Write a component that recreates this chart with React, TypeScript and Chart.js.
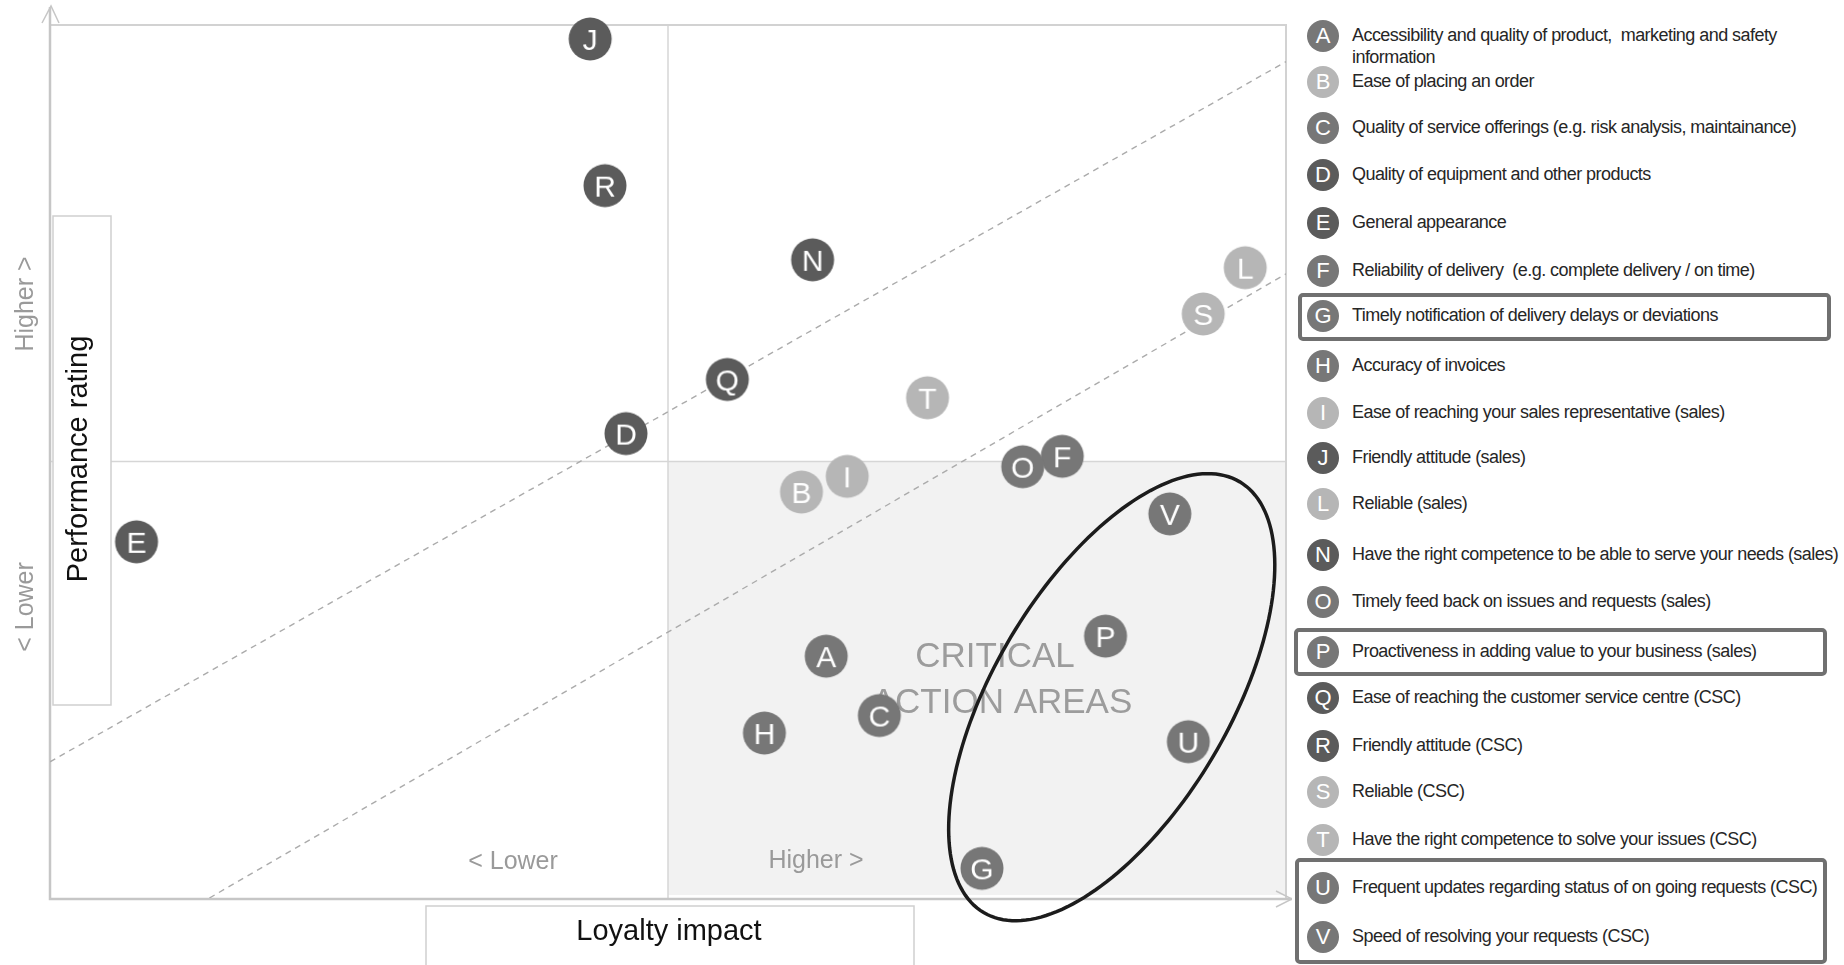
import React, { useEffect, useRef } from "react";
import { Chart, registerables } from "chart.js";

Chart.register(...registerables);

// Attribute codes, in legend order
const codes = ["A", "B", "C", "D", "E", "F", "G", "H", "I", "J", "L", "N", "O", "P", "Q", "R", "S", "T", "U", "V"];

// Loyalty impact (x) and performance rating (y), 0–10 scale, midpoint 5
const loyaltyImpact = [6.28, 6.08, 6.71, 4.66, 0.70, 8.19, 7.54, 5.78, 6.45, 4.37, 9.67, 6.17, 7.87, 8.54, 5.48, 4.49, 9.33, 7.10, 9.21, 9.06];
const performanceRating = [2.77, 4.65, 2.09, 5.32, 4.08, 5.06, 0.34, 1.89, 4.83, 9.84, 7.22, 7.31, 4.94, 3.00, 5.94, 8.16, 6.69, 5.73, 1.79, 4.40];

// Shade group of each attribute
const shades = ["mid", "light", "mid", "dark", "dark", "mid", "mid", "mid", "light", "dark", "light", "dark", "mid", "mid", "dark", "dark", "light", "light", "mid", "mid"];

const descriptions = [
  "Accessibility and quality of product,  marketing and safety\ninformation",
  "Ease of placing an order",
  "Quality of service offerings (e.g. risk analysis, maintainance)",
  "Quality of equipment and other products",
  "General appearance",
  "Reliability of delivery  (e.g. complete delivery / on time)",
  "Timely notification of delivery delays or deviations",
  "Accuracy of invoices",
  "Ease of reaching your sales representative (sales)",
  "Friendly attitude (sales)",
  "Reliable (sales)",
  "Have the right competence to be able to serve your needs (sales)",
  "Timely feed back on issues and requests (sales)",
  "Proactiveness in adding value to your business (sales)",
  "Ease of reaching the customer service centre (CSC)",
  "Friendly attitude (CSC)",
  "Reliable (CSC)",
  "Have the right competence to solve your issues (CSC)",
  "Frequent updates regarding status of on going requests (CSC)",
  "Speed of resolving your requests (CSC)",
];

// Dashed reference diagonals (endpoints in data units)
const upperGuideX = [0, 10];
const upperGuideY = [1.56, 9.58];
const lowerGuideX = [1.29, 10];
const lowerGuideY = [0, 7.15];

// Highlight ellipse: centre and two conjugate half-axes, in data units
const focusCentre = [8.59, 2.3];
const focusAxisU = [1.036, 2.467];
const focusAxisV = [0.817, -0.687];

const SHADE: Record<string, string> = { dark: "#5b5b5b", mid: "#777777", light: "#b6b6b6" };

// Vertical centre of each legend row (px)
const ROW_Y = [36, 82, 128, 175, 223, 271, 316, 366, 413, 458, 504, 555, 602, 652, 698, 746, 792, 840, 888, 937];

const SANS = "'Liberation Sans', Arial, sans-serif";

function makeMarker(letter: string, color: string): HTMLCanvasElement {
  const c = document.createElement("canvas");
  c.width = 46;
  c.height = 46;
  const g = c.getContext("2d")!;
  g.fillStyle = color;
  g.beginPath();
  g.arc(23, 23, 21.5, 0, Math.PI * 2);
  g.fill();
  g.fillStyle = "#ffffff";
  g.font = `30px ${SANS}`;
  g.textAlign = "center";
  g.textBaseline = "alphabetic";
  g.fillText(letter, 23, 34);
  return c;
}

const matrixDecor = {
  id: "matrixDecor",
  beforeDatasetsDraw(chart: any) {
    const { ctx, chartArea: a, scales } = chart;
    const xs = scales.x;
    const ys = scales.y;
    const xm = xs.getPixelForValue(5);
    const ym = ys.getPixelForValue(5);
    ctx.save();

    // shaded critical quadrant
    ctx.fillStyle = "#f2f2f2";
    ctx.fillRect(xm, ym, a.right - xm, a.bottom - 3 - ym);

    // quadrant dividers
    ctx.strokeStyle = "#d6d6d6";
    ctx.lineWidth = 1.5;
    ctx.beginPath();
    ctx.moveTo(xm, a.top);
    ctx.lineTo(xm, a.bottom);
    ctx.moveTo(a.left, ym);
    ctx.lineTo(a.right, ym);
    ctx.stroke();

    // top and right frame
    ctx.strokeStyle = "#d2d2d2";
    ctx.lineWidth = 2;
    ctx.beginPath();
    ctx.moveTo(a.left, a.top);
    ctx.lineTo(a.right, a.top);
    ctx.lineTo(a.right, a.bottom);
    ctx.stroke();

    // axes with arrow heads
    ctx.strokeStyle = "#c6c6c6";
    ctx.lineWidth = 2.5;
    ctx.beginPath();
    ctx.moveTo(a.left, 7);
    ctx.lineTo(a.left, a.bottom + 1);
    ctx.lineTo(a.right + 6, a.bottom + 1);
    ctx.stroke();
    ctx.lineWidth = 1.5;
    ctx.beginPath();
    ctx.moveTo(a.left - 8, 23);
    ctx.lineTo(a.left + 1, 6);
    ctx.lineTo(a.left + 9, 23);
    ctx.moveTo(a.right - 10, a.bottom - 7);
    ctx.lineTo(a.right + 6, a.bottom + 1);
    ctx.lineTo(a.right - 10, a.bottom + 9);
    ctx.stroke();

    // quadrant caption
    ctx.fillStyle = "#9c9c9c";
    ctx.font = `35px ${SANS}`;
    ctx.textAlign = "center";
    ctx.textBaseline = "alphabetic";
    ctx.fillText("CRITICAL", 995, 667);
    ctx.fillText("ACTION AREAS", 1002, 713);

    // low / high hints along the x axis
    ctx.font = `25px ${SANS}`;
    ctx.fillStyle = "#9a9a9a";
    ctx.fillText("< Lower", 513, 869);
    ctx.fillText("Higher >", 816, 868);

    // low / high hints along the y axis
    ctx.save();
    ctx.translate(33, 304);
    ctx.rotate(-Math.PI / 2);
    ctx.fillText("Higher >", 0, 0);
    ctx.restore();
    ctx.save();
    ctx.translate(33, 607);
    ctx.rotate(-Math.PI / 2);
    ctx.fillText("< Lower", 0, 0);
    ctx.restore();

    // axis title boxes
    ctx.strokeStyle = "#cfcfcf";
    ctx.lineWidth = 1.5;
    ctx.fillStyle = "#ffffff";
    ctx.fillRect(53, 216, 58, 489);
    ctx.strokeRect(53, 216, 58, 489);
    ctx.strokeRect(426, 906, 488, 60);

    ctx.fillStyle = "#111111";
    ctx.font = `29px ${SANS}`;
    ctx.fillText("Loyalty impact", 669, 940);
    ctx.save();
    ctx.translate(87, 459);
    ctx.rotate(-Math.PI / 2);
    ctx.fillText("Performance rating", 0, 0);
    ctx.restore();

    ctx.restore();
  },
  afterDatasetsDraw(chart: any) {
    const { ctx, scales } = chart;
    const xs = scales.x;
    const ys = scales.y;
    ctx.save();
    ctx.strokeStyle = "#1c1c1c";
    ctx.lineWidth = 3.5;
    ctx.beginPath();
    const steps = 180;
    for (let k = 0; k <= steps; k++) {
      const t = (k / steps) * Math.PI * 2;
      const dx = focusCentre[0] + focusAxisU[0] * Math.cos(t) + focusAxisV[0] * Math.sin(t);
      const dy = focusCentre[1] + focusAxisU[1] * Math.cos(t) + focusAxisV[1] * Math.sin(t);
      const px = xs.getPixelForValue(dx);
      const py = ys.getPixelForValue(dy);
      if (k === 0) ctx.moveTo(px, py);
      else ctx.lineTo(px, py);
    }
    ctx.closePath();
    ctx.stroke();
    ctx.restore();
  },
};

function ChartPanel() {
  const ref = useRef<HTMLCanvasElement | null>(null);
  useEffect(() => {
    if (!ref.current) return;
    const markers = codes.map((c, i) => makeMarker(c, SHADE[shades[i]]));
    const chart = new Chart(ref.current, {
      type: "scatter",
      data: {
        datasets: [
          {
            label: "Attributes",
            data: codes.map((_, i) => ({ x: loyaltyImpact[i], y: performanceRating[i] })),
            pointStyle: markers as any,
            pointRadius: 22,
            clip: false as any,
            order: 0,
          },
          {
            label: "Upper guide",
            data: upperGuideX.map((x, i) => ({ x, y: upperGuideY[i] })),
            showLine: true,
            borderColor: "#ababab",
            borderWidth: 1.4,
            borderDash: [6, 5],
            pointRadius: 0,
            order: 1,
          },
          {
            label: "Lower guide",
            data: lowerGuideX.map((x, i) => ({ x, y: lowerGuideY[i] })),
            showLine: true,
            borderColor: "#ababab",
            borderWidth: 1.4,
            borderDash: [6, 5],
            pointRadius: 0,
            order: 1,
          },
        ],
      },
      options: {
        animation: false,
        responsive: false,
        events: [],
        layout: { autoPadding: false, padding: { left: 50, top: 25, right: 6, bottom: 67 } },
        scales: {
          x: { type: "linear", min: 0, max: 10, display: false },
          y: { type: "linear", min: 0, max: 10, display: false },
        },
        plugins: { legend: { display: false }, tooltip: { enabled: false } },
      },
      plugins: [matrixDecor],
    });
    return () => chart.destroy();
  }, []);
  return <canvas ref={ref} width={1292} height={965} style={{ position: "absolute", left: 0, top: 0 }} />;
}

function KeyList() {
  const boxes = [
    { left: 1298, top: 293, width: 533, height: 48 },
    { left: 1294, top: 628, width: 533, height: 48 },
    { left: 1295, top: 858, width: 532, height: 106 },
  ];
  return (
    <>
      {boxes.map((b, i) => (
        <div
          key={"box" + i}
          style={{
            position: "absolute",
            left: b.left,
            top: b.top,
            width: b.width,
            height: b.height,
            border: "4px solid #707070",
            borderRadius: 5,
            boxSizing: "border-box",
          }}
        />
      ))}
      {codes.map((c, i) => (
        <React.Fragment key={c}>
          <div
            style={{
              position: "absolute",
              left: 1307,
              top: ROW_Y[i] - 16,
              width: 32,
              height: 32,
              borderRadius: "50%",
              background: SHADE[shades[i]],
              color: "#fff",
              font: `22px ${SANS}`,
              lineHeight: "32px",
              textAlign: "center",
            }}
          >
            {c}
          </div>
          <div
            style={{
              position: "absolute",
              left: 1352,
              top: ROW_Y[i] - 12,
              font: `18px ${SANS}`,
              letterSpacing: "-0.55px",
              lineHeight: "22px",
              color: "#262626",
              whiteSpace: "pre",
            }}
          >
            {descriptions[i]}
          </div>
        </React.Fragment>
      ))}
    </>
  );
}

export default function App() {
  return (
    <div
      style={{
        position: "fixed",
        left: 0,
        top: 0,
        width: 1844,
        height: 965,
        background: "#ffffff",
        overflow: "hidden",
      }}
    >
      <ChartPanel />
      <KeyList />
    </div>
  );
}
